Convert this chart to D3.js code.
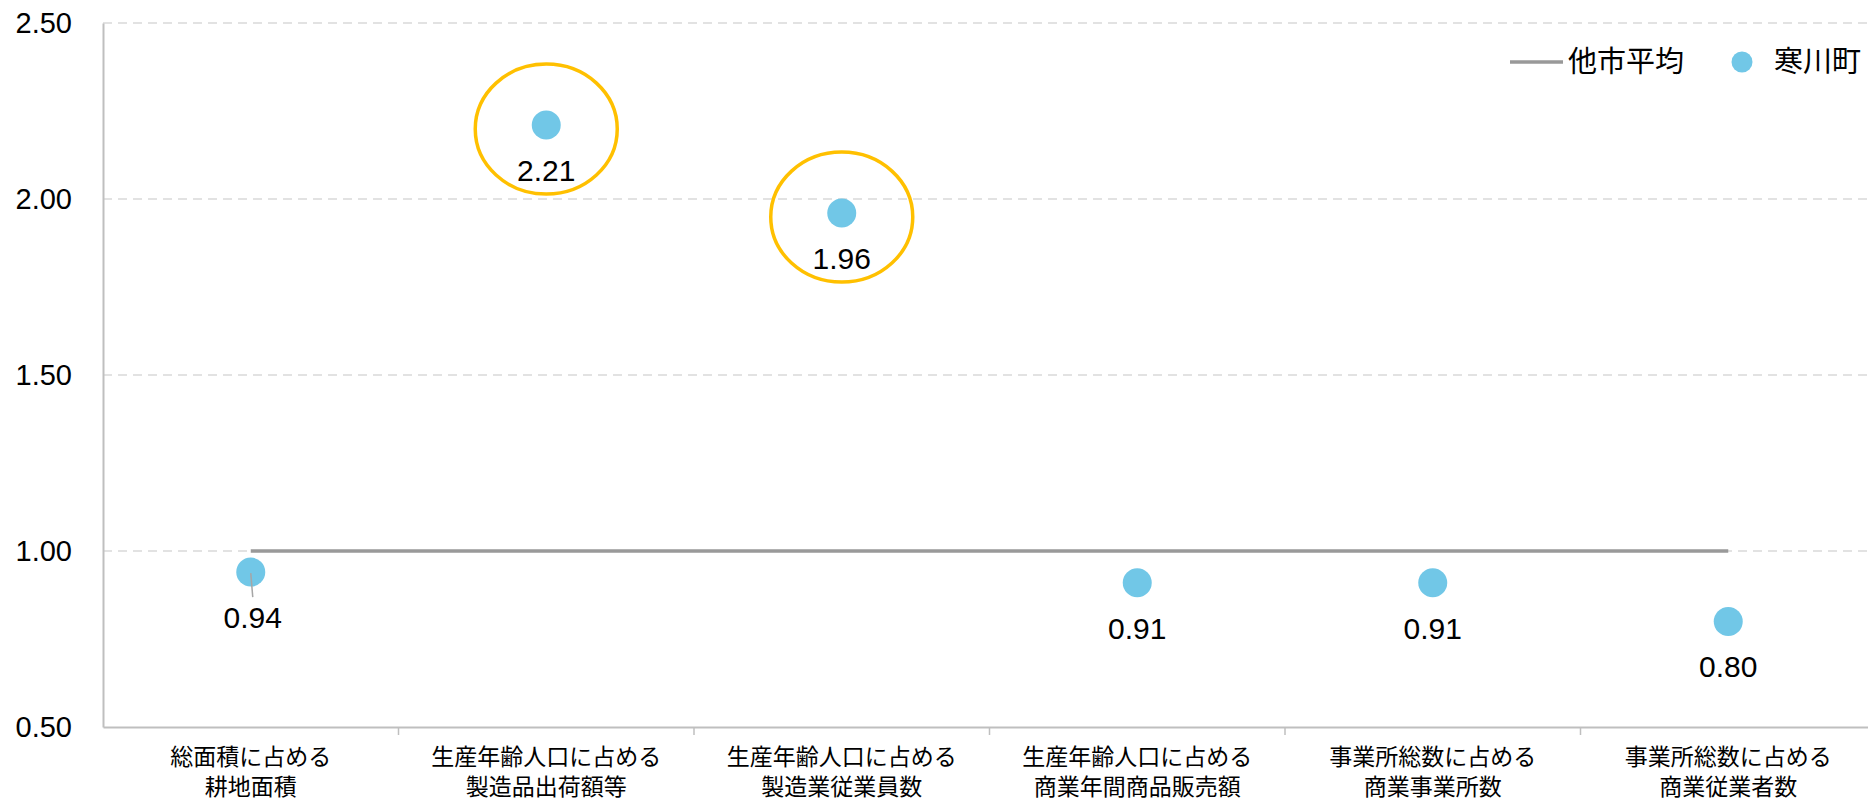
<!DOCTYPE html>
<html>
<head>
<meta charset="utf-8">
<script src="https://cdn.jsdelivr.net/npm/d3@7"></script>
<style>
  html, body { margin: 0; padding: 0; background: #fff; }
  svg { display: block; }
  text { font-family: "Liberation Sans", Arial, "Noto Sans CJK JP", sans-serif; }
  .jp { font-family: "Noto Sans CJK JP", "Liberation Sans", sans-serif; }
</style>
</head>
<body>
<div id="chart"></div>
<script>
// categories (2 lines each)
const categories = [
  ["総面積に占める", "耕地面積"],
  ["生産年齢人口に占める", "製造品出荷額等"],
  ["生産年齢人口に占める", "製造業従業員数"],
  ["生産年齢人口に占める", "商業年間商品販売額"],
  ["事業所総数に占める", "商業事業所数"],
  ["事業所総数に占める", "商業従業者数"],
];
const samukawaValues = [0.94, 2.21, 1.96, 0.91, 0.91, 0.80];
const averageValues = [1, 1, 1, 1, 1, 1];
const yTicks = [0.5, 1.0, 1.5, 2.0, 2.5];
const highlighted = [1, 2]; // categories circled in orange
const seriesNames = { avg: "他市平均", town: "寒川町" };

const width = 1868, height = 800;
const margin = { left: 103, top: 23, bottom: 73 };
const keys = categories.map((c, i) => "c" + i);

const svg = d3.select("#chart").append("svg")
  .attr("width", width).attr("height", height);

const x = d3.scaleBand().domain(keys).range([margin.left, 1876]).padding(0);
const y = d3.scaleLinear().domain([0.5, 2.5]).range([height - margin.bottom, margin.top]);
const cx = (i) => x(keys[i]) + x.bandwidth() / 2;

// gridlines
svg.append("g")
  .selectAll("line")
  .data(yTicks.filter((t) => t > 0.5))
  .join("line")
  .attr("x1", margin.left).attr("x2", width)
  .attr("y1", (d) => y(d)).attr("y2", (d) => y(d))
  .attr("stroke", "#d9d9d9").attr("stroke-width", 1.5)
  .attr("stroke-dasharray", "9,6");

// y axis
const yAxis = svg.append("g")
  .attr("transform", `translate(${margin.left},0)`)
  .call(d3.axisLeft(y).tickValues(yTicks).tickFormat(d3.format(".2f")).tickSize(0).tickPadding(31));
yAxis.select(".domain").attr("stroke", "#bfbfbf").attr("stroke-width", 2);
yAxis.selectAll("text").style("font-size", "29px").attr("fill", "#000")
  .attr("font-family", "Liberation Sans, Arial, sans-serif");

// x axis
const xAxis = svg.append("g")
  .attr("transform", `translate(0,${y(0.5)})`)
  .call(d3.axisBottom(x).tickSize(0).tickFormat(""));
xAxis.select(".domain").attr("stroke", "#bfbfbf").attr("stroke-width", 2);
xAxis.selectAll(".tick").remove();

// tick marks at band boundaries
svg.append("g")
  .selectAll("line")
  .data(keys.slice(1))
  .join("line")
  .attr("x1", (d) => x(d)).attr("x2", (d) => x(d))
  .attr("y1", y(0.5)).attr("y2", y(0.5) + 8)
  .attr("stroke", "#bfbfbf").attr("stroke-width", 1.5);

// category labels
const catLabels = svg.append("g")
  .selectAll("text")
  .data(categories)
  .join("text")
  .attr("class", "jp")
  .attr("text-anchor", "middle")
  .attr("x", (d, i) => cx(i))
  .attr("y", y(0.5) + 38)
  .style("font-size", "23px")
  .attr("fill", "#000");
catLabels.selectAll("tspan")
  .data((d) => d)
  .join("tspan")
  .attr("x", function () { return d3.select(this.parentNode).attr("x"); })
  .attr("dy", (d, j) => (j === 0 ? 0 : 30))
  .text((d) => d);

// average line
const line = d3.line().x((d, i) => cx(i)).y((d) => y(d));
svg.append("path")
  .datum(averageValues)
  .attr("d", line)
  .attr("fill", "none")
  .attr("stroke", "#999999")
  .attr("stroke-width", 3.5);

// points
svg.append("g")
  .selectAll("circle")
  .data(samukawaValues)
  .join("circle")
  .attr("cx", (d, i) => cx(i))
  .attr("cy", (d) => y(d))
  .attr("r", 14.5)
  .attr("fill", "#71c7e7");

// leader line for first label (drawn over the point)
svg.append("line")
  .attr("x1", cx(0)).attr("y1", y(samukawaValues[0]) + 1)
  .attr("x2", cx(0) + 2).attr("y2", y(samukawaValues[0]) + 25)
  .attr("stroke", "#a6a6a6").attr("stroke-width", 1.5);

// data labels
svg.append("g")
  .selectAll("text")
  .data(samukawaValues)
  .join("text")
  .attr("text-anchor", "middle")
  .attr("x", (d, i) => cx(i) + (i === 0 ? 2 : 0))
  .attr("y", (d) => y(d) + 56)
  .style("font-size", "30px")
  .attr("fill", "#000")
  .text((d) => d3.format(".2f")(d));

// orange highlight ellipses
svg.append("g")
  .selectAll("ellipse")
  .data(highlighted)
  .join("ellipse")
  .attr("cx", (i) => cx(i))
  .attr("cy", (i) => y(samukawaValues[i]) + 4)
  .attr("rx", 71)
  .attr("ry", 65)
  .attr("fill", "none")
  .attr("stroke", "#ffc000")
  .attr("stroke-width", 3.5);

// legend
const legend = svg.append("g");
legend.append("line")
  .attr("x1", 1510).attr("x2", 1563).attr("y1", 62).attr("y2", 62)
  .attr("stroke", "#999999").attr("stroke-width", 3.5);
legend.append("text")
  .attr("class", "jp")
  .attr("x", 1568).attr("y", 62).attr("dy", "0.36em")
  .style("font-size", "29px").attr("fill", "#000")
  .text(seriesNames.avg);
legend.append("circle")
  .attr("cx", 1742).attr("cy", 62).attr("r", 10.5)
  .attr("fill", "#71c7e7");
legend.append("text")
  .attr("class", "jp")
  .attr("x", 1774).attr("y", 62).attr("dy", "0.36em")
  .style("font-size", "29px").attr("fill", "#000")
  .text(seriesNames.town);
</script>
</body>
</html>
